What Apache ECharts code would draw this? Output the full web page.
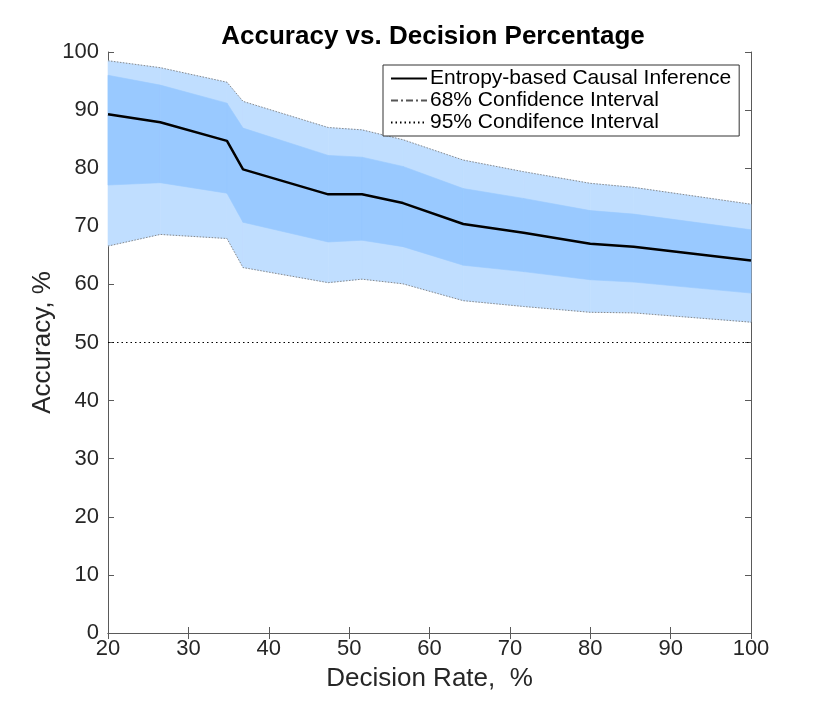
<!DOCTYPE html>
<html>
<head>
<meta charset="utf-8">
<script src="https://cdn.jsdelivr.net/npm/echarts@6/dist/echarts.min.js"></script>
<style>
    html, body { margin: 0; padding: 0; background: #fff; }
    #container { width: 830px; height: 712px; }
</style>
</head>
<body>
<div id="container"></div>
<script>
// decision rate (%) at each breakpoint
var rates = [20, 26.5, 34.8, 36.8, 47.4, 51.6, 56.7, 64.2, 71.7, 80.0, 85.4, 100];
// accuracy (%)
var accMean = [89.3, 87.9, 84.7, 79.8, 75.5, 75.5, 74.0, 70.4, 68.9, 67.0, 66.5, 64.1];
var upper68 = [96.0, 94.3, 91.2, 86.9, 82.2, 81.9, 80.3, 76.5, 74.8, 72.7, 72.1, 69.4];
var lower68 = [77.1, 77.5, 75.7, 70.7, 67.3, 67.6, 66.5, 63.3, 62.2, 60.8, 60.4, 58.5];
var upper95 = [98.5, 97.3, 94.8, 91.5, 87.0, 86.6, 84.9, 81.4, 79.4, 77.4, 76.7, 73.8];
var lower95 = [66.6, 68.6, 67.9, 62.9, 60.3, 60.9, 60.1, 57.2, 56.2, 55.2, 55.1, 53.5];
var chanceLevel = 50;

var seriesNames = ['Entropy-based Causal Inference', '68% Confidence Interval', '95% Condifence Interval'];

function pairs(ys) {
    return rates.map(function (x, i) { return [x, ys[i]]; });
}
// one row per segment: [x0, lo0, hi0, x1, lo1, hi1]
function segments(lo, hi) {
    var out = [];
    for (var i = 0; i < rates.length - 1; i++) {
        out.push([rates[i], lo[i], hi[i], rates[i + 1], lo[i + 1], hi[i + 1]]);
    }
    return out;
}

var axisColor = '#5a5a5a';
var textColor = '#262626';
var font = '"Liberation Sans", Arial, Helvetica, sans-serif';

var myChart = echarts.init(document.getElementById('container'));

function bandSeries(name, lo, hi, color) {
    return {
        name: name,
        type: 'custom',
        silent: true,
        data: segments(lo, hi),
        encode: { x: [0, 3], y: [1, 2, 4, 5] },
        renderItem: function (params, api) {
            var a = api.coord([api.value(0), api.value(1)]);
            var b = api.coord([api.value(3), api.value(4)]);
            var c = api.coord([api.value(3), api.value(5)]);
            var d = api.coord([api.value(0), api.value(2)]);
            return {
                type: 'polygon',
                shape: { points: [a, b, c, d] },
                style: { fill: color, stroke: color, lineWidth: 0.6 }
            };
        },
        z: 1
    };
}

var option = {
    animation: false,
    textStyle: { fontFamily: font },
    title: {
        text: 'Accuracy vs. Decision Percentage',
        left: 428,
        textAlign: 'center',
        top: 19,
        textStyle: { fontFamily: font, fontSize: 26, fontWeight: 'bold', color: '#000' }
    },
    grid: { left: 108, right: 79, top: 52, bottom: 79, containLabel: false },
    legend: {
        orient: 'vertical',
        left: 383,
        top: 65,
        width: 356,
        padding: [3, 8, 3, 7],
        itemGap: 1,
        itemWidth: 36,
        itemHeight: 14,
        backgroundColor: '#fff',
        borderColor: '#333',
        borderWidth: 1,
        borderRadius: 0,
        itemStyle: { opacity: 0 },
        data: seriesNames,
        textStyle: { fontFamily: font, fontSize: 21, lineHeight: 21, color: '#000', padding: [0, 0, 0, -2] }
    },
    xAxis: [
        {
            type: 'value', min: 20, max: 100, interval: 10,
            name: 'Decision Rate,  %', nameLocation: 'middle', nameGap: 33,
            nameMoveOverlap: false,
            nameTextStyle: { fontFamily: font, fontSize: 26, color: textColor },
            axisLine: { lineStyle: { color: axisColor, width: 1 } },
            axisTick: { inside: true, length: 6, lineStyle: { color: axisColor } },
            axisLabel: { fontFamily: font, fontSize: 22, color: textColor, margin: 5 },
            splitLine: { show: false }
        },
        {
            type: 'value', min: 20, max: 100, interval: 10, position: 'top',
            axisLine: { lineStyle: { color: axisColor, width: 1 } },
            axisTick: { inside: true, length: 6, lineStyle: { color: axisColor } },
            axisLabel: { show: false },
            splitLine: { show: false }
        }
    ],
    yAxis: [
        {
            type: 'value', min: 0, max: 100, interval: 10,
            name: 'Accuracy, %', nameLocation: 'middle', nameGap: 52,
            nameMoveOverlap: false,
            nameTextStyle: { fontFamily: font, fontSize: 26, color: textColor },
            axisLine: { show: true, lineStyle: { color: axisColor, width: 1 } },
            axisTick: { show: true, inside: true, length: 6, lineStyle: { color: axisColor } },
            axisLabel: { fontFamily: font, fontSize: 22, color: textColor, margin: 9 },
            splitLine: { show: false }
        },
        {
            type: 'value', min: 0, max: 100, interval: 10, position: 'right',
            axisLine: { show: true, lineStyle: { color: axisColor, width: 1 } },
            axisTick: { show: true, inside: true, length: 6, lineStyle: { color: axisColor } },
            axisLabel: { show: false },
            splitLine: { show: false }
        }
    ],
    series: [
        bandSeries('band95', lower95, upper95, '#c0deff'),
        bandSeries('band68', lower68, upper68, '#99c9ff'),
        {
            name: 'upper95edge', type: 'line', data: pairs(upper95), symbol: 'none', silent: true,
            lineStyle: { color: '#8a8a8a', width: 1, type: [1.5, 1.5] }, z: 2
        },
        {
            name: 'lower95edge', type: 'line', data: pairs(lower95), symbol: 'none', silent: true,
            lineStyle: { color: '#8a8a8a', width: 1, type: [1.5, 1.5] }, z: 2
        },
        {
            name: seriesNames[0], type: 'line', data: pairs(accMean), symbol: 'none',
            itemStyle: { color: '#000' },
            lineStyle: { color: '#000', width: 2.5 }, z: 5
        },
        {
            name: seriesNames[1], type: 'line', data: [], symbol: 'none',
            itemStyle: { color: '#555' },
            lineStyle: { color: '#555', width: 1, type: [7, 3, 2, 3] }, z: 4
        },
        {
            name: seriesNames[2], type: 'line', symbol: 'none',
            data: [[20, chanceLevel], [100, chanceLevel]],
            itemStyle: { color: '#000' },
            lineStyle: { color: '#000', width: 1, type: [1.5, 3] }, z: 4
        }
    ]
};
myChart.setOption(option);
</script>
</body>
</html>
